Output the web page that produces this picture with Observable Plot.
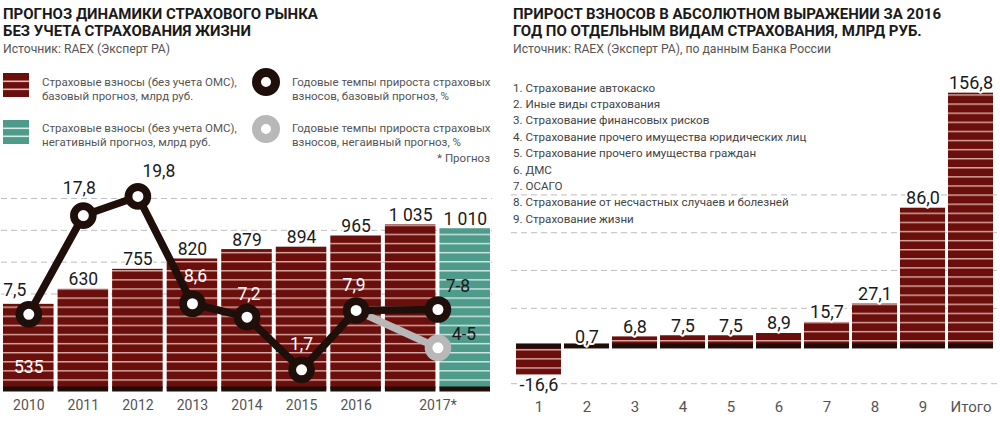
<!DOCTYPE html>
<html><head><meta charset="utf-8">
<script src="https://cdn.jsdelivr.net/npm/d3@7"></script>
<script src="https://cdn.jsdelivr.net/npm/@observablehq/plot@0.6"></script>
<style>
body{margin:0;background:#fff;font-family:Roboto,"Noto Sans",sans-serif;}
#root{position:relative;width:1000px;height:421px;overflow:hidden;background:#fff;}
.abs{position:absolute;white-space:nowrap;}
.title{font-weight:700;font-size:15px;line-height:1;color:#1a1a1a;}
.src{font-size:12.2px;line-height:1;color:#555;}
.leg{font-size:11.5px;line-height:14px;color:#555;}
.list{font-size:11.6px;line-height:16.4px;color:#444;}
</style></head><body>
<svg width="0" height="0" style="position:absolute">
<defs>
<pattern id="redL" patternUnits="userSpaceOnUse" width="10" height="9.1" y="5.9">
<rect width="10" height="9.1" fill="#6b0f0c"/><rect width="10" height="1.4" fill="#d9aaa5"/></pattern>
<pattern id="tealL" patternUnits="userSpaceOnUse" width="10" height="9.1" y="5.9">
<rect width="10" height="9.1" fill="#4f9b8b"/><rect width="10" height="1.4" fill="#d2e8e2"/></pattern>
<pattern id="redR" patternUnits="userSpaceOnUse" width="10" height="9.1" y="7">
<rect width="10" height="9.1" fill="#6b0f0c"/><rect width="10" height="1.4" fill="#d9aaa5"/></pattern>
</defs></svg>
<div id="root">
  <div class="abs title" style="left:3px;top:7px">ПРОГНОЗ ДИНАМИКИ СТРАХОВОГО РЫНКА</div>
  <div class="abs title" style="left:3px;top:23.5px">БЕЗ УЧЕТА СТРАХОВАНИЯ ЖИЗНИ</div>
  <div class="abs src" style="left:3px;top:42.5px">Источник: RAEX (Эксперт РА)</div>

  <svg class="abs" style="left:3px;top:73px" width="26" height="24"><rect width="26" height="24" fill="#6b0f0c"/><rect y="7.5" width="26" height="1.6" fill="#e3bdb9"/><rect y="15.5" width="26" height="1.6" fill="#e3bdb9"/></svg>
  <div class="abs leg" style="left:42px;top:74.5px">Страховые взносы (без учета ОМС),<br>базовый прогноз, млрд руб.</div>
  <svg class="abs" style="left:3px;top:120px" width="26" height="24"><rect width="26" height="24" fill="#4f9b8b"/><rect y="7.5" width="26" height="1.6" fill="#d8ebe6"/><rect y="15.5" width="26" height="1.6" fill="#d8ebe6"/></svg>
  <div class="abs leg" style="left:42px;top:120.5px">Страховые взносы (без учета ОМС),<br>негативный прогноз, млрд руб.</div>

  <svg class="abs" style="left:252px;top:68px" width="28" height="28"><circle cx="14" cy="14" r="9.5" fill="#fff" stroke="#1f0f0b" stroke-width="9"/></svg>
  <div class="abs leg" style="left:292px;top:74.5px">Годовые темпы прироста страховых<br>взносов, базовый прогноз, %</div>
  <svg class="abs" style="left:252px;top:115px" width="28" height="28"><circle cx="14" cy="14" r="9.5" fill="#fff" stroke="#b8b8b8" stroke-width="9"/></svg>
  <div class="abs leg" style="left:292px;top:120.5px">Годовые темпы прироста страховых<br>взносов, негаивный прогноз, %</div>
  <div class="abs src" style="right:510px;top:152.5px;font-size:11.5px">* Прогноз</div>

  <div class="abs title" style="left:513px;top:7px">ПРИРОСТ ВЗНОСОВ В АБСОЛЮТНОМ ВЫРАЖЕНИИ ЗА 2016</div>
  <div class="abs title" style="left:513px;top:23.5px">ГОД ПО ОТДЕЛЬНЫМ ВИДАМ СТРАХОВАНИЯ, МЛРД РУБ.</div>
  <div class="abs src" style="left:513px;top:42.5px">Источник: RAEX (Эксперт РА), по данным Банка России</div>

  <div id="left1" class="abs" style="left:0;top:155px"></div>
  <div id="left2" class="abs" style="left:0;top:155px"></div>
  <div id="right" class="abs" style="left:500px;top:60px"></div>
  <div id="list" class="abs list" style="left:513px;top:79.6px"></div>
</div>
<script>
// ---------- data: left chart ----------
const years = ["2010","2011","2012","2013","2014","2015","2016","2017*"];
const premiumsBase = [535, 630, 755, 820, 879, 894, 965, 1035];
const premiumsNegative2017 = 1010;
const growthBase = [7.5, 17.8, 19.8, 8.6, 7.2, 1.7, 7.9, 8];
const growthBaseLabels = ["7,5","17,8","19,8","8,6","7,2","1,7","7,9","7-8"];
const growthNegative2017 = 4;
const growthNegative2017Label = "4-5";
const leftGridValues = [600, 800, 1000, 1200];

// ---------- data: right chart ----------
const insuranceTypes = [
  "Страхование автокаско",
  "Иные виды страхования",
  "Страхование финансовых рисков",
  "Страхование прочего имущества юридических лиц",
  "Страхование прочего имущества граждан",
  "ДМС",
  "ОСАГО",
  "Страхование от несчастных случаев и болезней",
  "Страхование жизни"
];
const typeLabels = ["1","2","3","4","5","6","7","8","9","Итого"];
const growth2016 = [-16.6, 0.7, 6.8, 7.5, 7.5, 8.9, 15.7, 27.1, 86.0, 156.8];
const rightGridValues = [-22, 24.4, 47.7, 70.9, 94.2];

// ---------- build ----------
const FONT = "Roboto, 'Noto Sans', sans-serif";
const DARK = "#1f0f0b";
const BAND = "#1f0d0a";
const GRID = {stroke: "#bdbdbd", strokeDasharray: "6,4", strokeWidth: 1};
const fmtThousands = v => d3.format(",")(v).replace(/,/g, " ");
const fmtDec = v => v.toFixed(1).replace(".", ",");

const last = years.length - 1;
const yearPos = i => i < last ? i : i + 0.5;
const barsBase = premiumsBase.map((v, i) => ({pos: i, value: v}));
const barsNeg = [{pos: last + 1, value: premiumsNegative2017}];
const barsAll = barsBase.concat(barsNeg);
const basePts = growthBase.map((v, i) => ({pos: yearPos(i), v, label: growthBaseLabels[i]}));
const negPts = [basePts[last - 1], {pos: yearPos(last), v: growthNegative2017, label: growthNegative2017Label}];
const yearTable = years.map((y, i) => ({pos: yearPos(i), year: y}));

const leftCommon = {
  width: 500, height: 266, marginTop: 0, marginBottom: 32, marginLeft: 1, marginRight: 8,
  x: {domain: [-0.5, barsAll.length - 0.5], axis: null},
  style: {fontFamily: FONT, background: "transparent", overflow: "visible"}
};
const bx1 = d => d.pos - 0.5, bx2 = d => d.pos + 0.5;

const left1 = Plot.plot({
  ...leftCommon,
  y: {domain: [0, 1470], axis: null},
  marks: [
    Plot.ruleY(leftGridValues, GRID),
    Plot.rect(barsBase, {x1: bx1, x2: bx2, y1: () => 0, y2: "value", insetLeft: 2, insetRight: 2, fill: "url(#redL)"}),
    Plot.rect(barsNeg, {x1: bx1, x2: bx2, y1: () => 0, y2: "value", insetLeft: 2, insetRight: 2, fill: "url(#tealL)"}),
    Plot.rect(barsAll, {x1: bx1, x2: bx2, y1: () => 0, y2: () => 0, insetLeft: 2, insetRight: 2, insetTop: -2.5, insetBottom: -2.5, fill: BAND}),
    Plot.text(barsAll.slice(1), {x: "pos", y: "value", text: d => fmtThousands(d.value), dy: -4, lineAnchor: "bottom", fontSize: 17.5, fill: "#1a1a1a", stroke: "white", strokeWidth: 3}),
    Plot.text(barsAll.slice(0, 1), {x: "pos", y: () => 0, text: d => fmtThousands(d.value), dy: -22.5, fontSize: 17.5, fill: "white"}),
    Plot.text(yearTable, {x: "pos", y: () => 0, text: "year", dy: 16, fontSize: 14, fill: "#555"})
  ]
});

// label placement for the growth labels (style only)
const pctLabelPlacement = [
  {dx: -14, dy: -24, dark: true}, {dx: -4, dy: -27, dark: true}, {dx: 21, dy: -25, dark: true},
  {dx: 3, dy: -27}, {dx: 2, dy: -23}, {dx: 0, dy: -25}, {dx: -2, dy: -25},
  {dx: 20, dy: -23, dark: true, noHalo: true}
];
const pctLabelMarks = basePts.map((p, i) => {
  const s = pctLabelPlacement[i];
  return Plot.text([p], {x: "pos", y: "v", text: "label", dx: s.dx, dy: s.dy, fontSize: 17.5,
    fill: s.dark ? "#1a1a1a" : "white",
    ...(s.dark && !s.noHalo ? {stroke: "white", strokeWidth: 3} : {})});
});

const left2 = Plot.plot({
  ...leftCommon,
  y: {domain: [-0.35, 24.07], axis: null},
  marks: [
    Plot.line(negPts, {x: "pos", y: "v", stroke: "#b8b8b8", strokeWidth: 7.5}),
    Plot.line(basePts, {x: "pos", y: "v", stroke: DARK, strokeWidth: 7.5, strokeLinejoin: "round"}),
    Plot.dot(negPts.slice(1), {x: "pos", y: "v", r: 9.4, fill: "white", stroke: "#b8b8b8", strokeWidth: 7.8}),
    Plot.dot(basePts, {x: "pos", y: "v", r: 9.4, fill: "white", stroke: DARK, strokeWidth: 7.8}),
    ...pctLabelMarks,
    Plot.text(negPts.slice(1), {x: "pos", y: "v", text: "label", dx: 26, dy: -13, fontSize: 17.5, fill: "#1a1a1a"})
  ]
});

document.getElementById("left1").appendChild(left1);
document.getElementById("left2").appendChild(left2);

// ---------- right chart ----------
const rightData = typeLabels.map((c, i) => ({cat: c, value: growth2016[i]}));
const right = Plot.plot({
  width: 500, height: 361, marginTop: 0, marginBottom: 30, marginLeft: 11, marginRight: 2,
  x: {domain: typeLabels, paddingInner: 0.06, paddingOuter: 0, axis: null},
  y: {domain: [-26.8, 176.9], axis: null},
  style: {fontFamily: FONT, background: "transparent", overflow: "visible"},
  marks: [
    Plot.ruleY(rightGridValues, GRID),
    Plot.barY(rightData, {x: "cat", y1: () => 0, y2: "value", fill: "url(#redR)"}),
    Plot.barY(rightData, {x: "cat", y1: () => 0, y2: () => 0, insetTop: -4, insetBottom: -1, fill: BAND}),
    Plot.text(rightData.filter(d => d.value >= 0), {x: "cat", y: "value", text: d => fmtDec(d.value), dy: -4, lineAnchor: "bottom", fontSize: 18, fill: "#1a1a1a", stroke: "white", strokeWidth: 4}),
    Plot.text(rightData.filter(d => d.value < 0), {x: "cat", y: "value", text: d => fmtDec(d.value), dy: 3, lineAnchor: "top", fontSize: 18, fill: "#1a1a1a", stroke: "white", strokeWidth: 4}),
    Plot.text(typeLabels, {x: d => d, frameAnchor: "bottom", dy: 20, fontSize: 15, fill: "#555"})
  ]
});
document.getElementById("right").appendChild(right);

document.getElementById("list").innerHTML = insuranceTypes.map((t, i) => `${i + 1}. ${t}`).join("<br>");
</script>
</body></html>
